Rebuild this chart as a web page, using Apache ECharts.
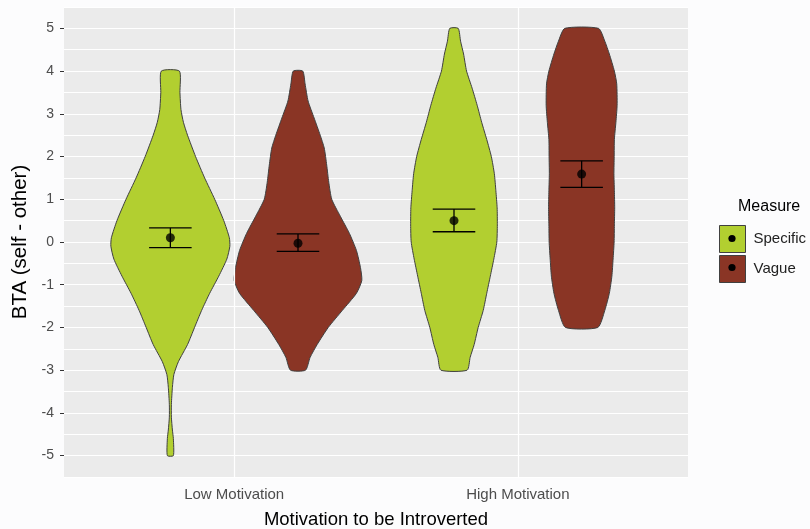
<!DOCTYPE html>
<html><head><meta charset="utf-8">
<script src="https://cdn.jsdelivr.net/npm/echarts@6/dist/echarts.min.js"></script>
<style>html,body{margin:0;padding:0;background:#fcfcfd;}#c{width:810px;height:529px;}</style>
</head><body><div id="c"></div>
<script>
// ---------- data ----------
const groups = ['Low Motivation', 'High Motivation'];
const measures = ['Specific', 'Vague'];
const yTicks = [-5, -4, -3, -2, -1, 0, 1, 2, 3, 4, 5];

// violin outlines: [BTA value, relative density width (1 = widest violin)]
const specificLow = [[4.0,0.142],[3.5,0.150],[3.1,0.166],[2.8,0.205],[2.5,0.269],[2.0,0.395],[1.5,0.537],[1.0,0.695],[0.5,0.837],[0.1,0.924],[-0.1,0.932],[-0.4,0.885],[-0.8,0.758],[-1.2,0.616],[-1.6,0.490],[-2.0,0.379],[-2.4,0.269],[-2.8,0.126],[-3.1,0.055],[-3.4,0.032],[-3.8,0.016],[-4.1,0.016],[-4.4,0.032],[-4.6,0.047],[-5.0,0.047]];
const vagueLow = [[4.0,0.074],[3.7,0.111],[3.3,0.158],[2.9,0.253],[2.5,0.348],[2.2,0.411],[1.8,0.450],[1.4,0.482],[1.0,0.529],[0.6,0.664],[0.2,0.806],[-0.2,0.916],[-0.6,0.979],[-0.9,1.0],[-1.2,0.916],[-1.6,0.695],[-2.0,0.474],[-2.4,0.300],[-2.7,0.190],[-3.0,0.118]];
const specificHigh = [[5.0,0.066],[4.7,0.103],[4.4,0.150],[4.0,0.197],[3.6,0.284],[3.2,0.363],[2.8,0.434],[2.4,0.513],[2.0,0.585],[1.6,0.632],[1.2,0.656],[0.8,0.676],[0.4,0.679],[0.0,0.671],[-0.4,0.624],[-0.8,0.569],[-1.2,0.513],[-1.6,0.458],[-2.0,0.379],[-2.4,0.316],[-2.7,0.253],[-3.0,0.205]];
const vagueHigh = [[5.0,0.264],[4.7,0.363],[4.4,0.434],[4.0,0.513],[3.7,0.550],[3.2,0.556],[2.8,0.537],[2.4,0.513],[2.0,0.510],[1.6,0.506],[1.2,0.513],[0.8,0.518],[0.4,0.513],[0.0,0.509],[-0.4,0.493],[-0.8,0.474],[-1.2,0.434],[-1.6,0.363],[-2.0,0.253]];

// means and error bars (per group: Low, High)
const specificMean  = [0.10, 0.50];
const specificUpper = [0.33, 0.77];
const specificLower = [-0.13, 0.24];
const vagueMean  = [-0.03, 1.59];
const vagueUpper = [0.19, 1.90];
const vagueLower = [-0.22, 1.28];

// ---------- styling / layout ----------
const COLORS = ['#B2CF30', '#8A3525'];
const OUTLINE = '#404040';
const DODGE = 0.225;       // half of dodge width 0.9 / 2 groups
const HALF_MAX = 0.225;    // half width of widest violin
const ERR_HALF = 0.075;
const offsets = [-DODGE, DODGE];
const profiles = [[specificLow, specificHigh], [vagueLow, vagueHigh]];
const means = [specificMean, vagueMean];
const uppers = [specificUpper, vagueUpper];
const lowers = [specificLower, vagueLower];

const chart = echarts.init(document.getElementById('c'), null, {renderer: 'canvas'});

function violinSeries(mi) {
  return {
    type: 'custom', name: measures[mi], z: 3,
    itemStyle: {color: COLORS[mi], borderColor: OUTLINE, borderWidth: 1},
    encode: {x: 0, y: 1},
    data: groups.map((g, gi) => [gi + 1 + offsets[mi], 0]),
    renderItem: function (params, api) {
      const gi = params.dataIndex;
      const xc = gi + 1 + offsets[mi];
      const prof = profiles[mi][gi];
      const right = prof.map(p => api.coord([xc + p[1] * HALF_MAX, p[0]]));
      const left = prof.slice().reverse().map(p => api.coord([xc - p[1] * HALF_MAX, p[0]]));
      return {type: 'polygon', shape: {points: right.concat(left), smooth: 0.2},
        style: {fill: COLORS[mi], stroke: OUTLINE, lineWidth: 1}};
    }
  };
}
function errSeries(mi) {
  return {
    type: 'custom', name: measures[mi] + ' CI', z: 4, silent: true,
    encode: {x: 0, y: [1, 2]},
    data: groups.map((g, gi) => [gi + 1 + offsets[mi], lowers[mi][gi], uppers[mi][gi]]),
    renderItem: function (params, api) {
      const x = api.value(0), lo = api.value(1), hi = api.value(2);
      const a = api.coord([x - ERR_HALF, hi]), b = api.coord([x + ERR_HALF, hi]);
      const c = api.coord([x - ERR_HALF, lo]), d = api.coord([x + ERR_HALF, lo]);
      const m1 = api.coord([x, hi]), m2 = api.coord([x, lo]);
      const st = {stroke: '#000', lineWidth: 1.3};
      return {type: 'group', children: [
        {type: 'line', shape: {x1: a[0], y1: a[1], x2: b[0], y2: b[1]}, style: st},
        {type: 'line', shape: {x1: c[0], y1: c[1], x2: d[0], y2: d[1]}, style: st},
        {type: 'line', shape: {x1: m1[0], y1: m1[1], x2: m2[0], y2: m2[1]}, style: st}
      ]};
    }
  };
}
function meanSeries(mi) {
  return {
    type: 'scatter', name: measures[mi] + ' mean', z: 5, silent: true,
    symbol: 'circle', symbolSize: 9, itemStyle: {color: '#000'},
    data: groups.map((g, gi) => [gi + 1 + offsets[mi], means[mi][gi]])
  };
}

const LEG_LEFT = 719, LEG_TOP = 225, KEY_W = 26, KEY_H = 27, KEY_GAP = 2;

const option = {
  backgroundColor: '#fcfcfd',
  animation: false,
  title: {text: 'Measure', left: 733, top: 194,
    textStyle: {fontFamily: 'Liberation Sans', fontSize: 16, fontWeight: 'normal', color: '#000'}},
  legend: {
    orient: 'vertical', left: LEG_LEFT, top: LEG_TOP, padding: 0,
    itemWidth: KEY_W, itemHeight: KEY_H, itemGap: KEY_GAP, icon: 'rect',
    data: measures,
    selectedMode: false,
    itemStyle: {borderColor: OUTLINE, borderWidth: 1},
    textStyle: {fontFamily: 'Liberation Sans', fontSize: 15, color: '#222', padding: [0, 0, 0, 3]}
  },
  graphic: measures.map((m, i) => ({
    type: 'circle', z: 100,
    shape: {cx: LEG_LEFT + KEY_W / 2, cy: LEG_TOP + KEY_H / 2 + i * (KEY_H + KEY_GAP), r: 3.6},
    style: {fill: '#000'}
  })),
  grid: {left: 64, right: 122, top: 7, bottom: 52, show: true, backgroundColor: '#EBEBEB',
    borderWidth: 0, containLabel: false, outerBoundsMode: 'none'},
  xAxis: {
    type: 'value', min: 0.4, max: 2.6,
    axisLine: {show: false},
    axisTick: {show: true, customValues: [1, 2], length: 4, lineStyle: {color: '#333'}},
    axisLabel: {customValues: [1, 2], formatter: v => groups[Math.round(v) - 1],
      fontFamily: 'Liberation Sans', fontSize: 15, color: '#4d4d4d', margin: 10},
    splitLine: {show: false},
    name: 'Motivation to be Introverted', nameLocation: 'middle', nameGap: 33,
    nameTextStyle: {fontFamily: 'Liberation Sans', fontSize: 18.5, color: '#000'}
  },
  yAxis: [{
    type: 'value', min: -5.5, max: 5.5, interval: 0.5,
    axisLine: {show: false},
    axisTick: {show: true, customValues: yTicks, length: 4, lineStyle: {color: '#333'}},
    axisLabel: {customValues: yTicks, formatter: v => String(v),
      fontFamily: 'Liberation Sans', fontSize: 14, color: '#4d4d4d', margin: 10},
    splitLine: {show: false},
    name: 'BTA (self - other)', nameLocation: 'middle', nameGap: 31, nameRotate: 90,
    nameTextStyle: {fontFamily: 'Liberation Sans', fontSize: 20.5, color: '#000'}
  }, {
    type: 'value', min: -5.5, max: 5.5, interval: 0.5, position: 'right',
    axisLine: {show: false}, axisTick: {show: false}, axisLabel: {show: false},
    splitLine: {show: true, lineStyle: {color: '#ffffff', width: 1.2}}
  }],
  series: [
    {type: 'scatter', name: 'grid-x', data: [], z: 1, silent: true,
      markLine: {silent: true, symbol: 'none', label: {show: false},
        lineStyle: {color: '#ffffff', width: 1.2, type: 'solid'},
        data: groups.map((g, gi) => ({xAxis: gi + 1}))}},
    violinSeries(0), violinSeries(1),
    errSeries(0), errSeries(1),
    meanSeries(0), meanSeries(1)
  ]
};
chart.setOption(option);
</script></body></html>
